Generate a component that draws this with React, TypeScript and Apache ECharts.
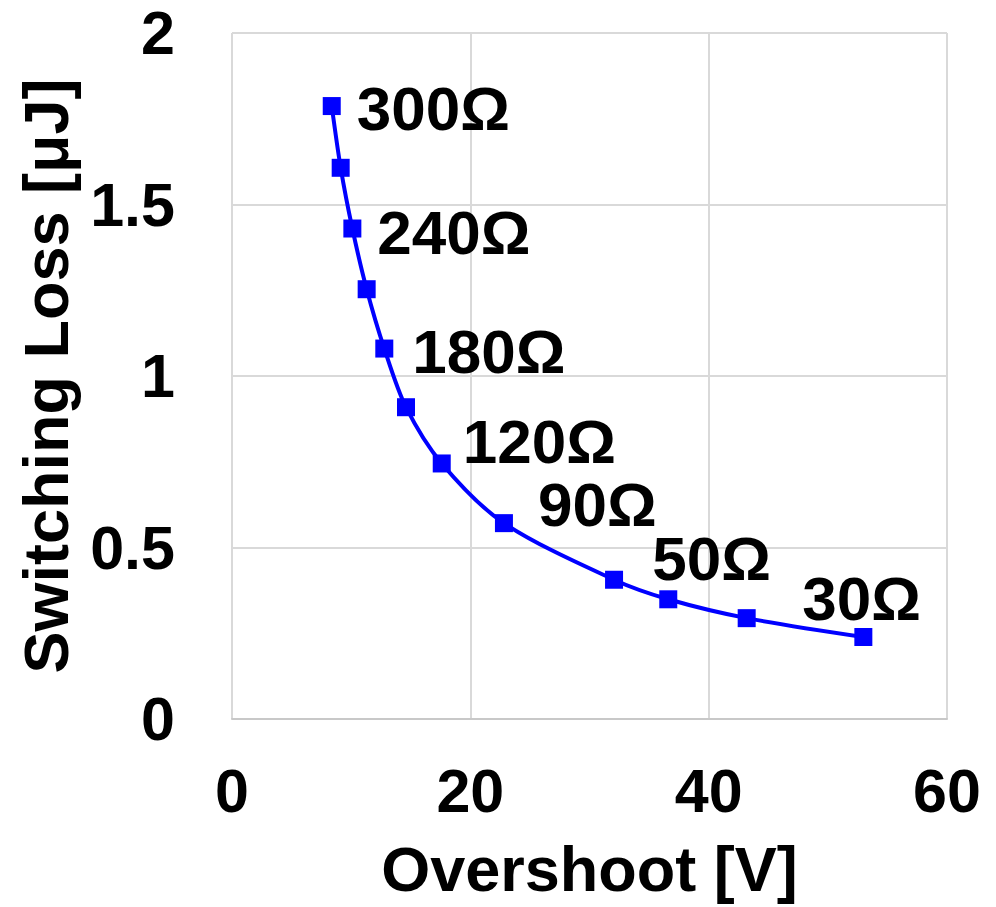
import React, { useEffect, useRef } from "react";
import * as echarts from "echarts";

const overshootV = [8.37, 9.12, 10.1, 11.3, 12.78, 14.6, 17.6, 22.82, 32.06, 36.61, 43.19, 52.98];
const switchingLossUJ = [1.787, 1.607, 1.43, 1.253, 1.08, 0.909, 0.745, 0.571, 0.406, 0.349, 0.294, 0.239];
const pointLabels = ["300Ω", "", "240Ω", "", "180Ω", "", "120Ω", "90Ω", "", "50Ω", "", "30Ω"];
const labelOffsets: number[][] = [
  [25, 2], [0, 0], [25, 4], [0, 0], [28, 3], [0, 0], [21, -22], [34, -19], [0, 0], [-16, -41], [0, 0], [-61, -39],
];
const xTicks = { min: 0, max: 60, interval: 20 };
const yTicks = { min: 0, max: 2, interval: 0.5 };

const FONT = "'Liberation Sans', Arial, sans-serif";

export default function App() {
  const ref = useRef<HTMLDivElement>(null);
  useEffect(() => {
    if (!ref.current) return;
    const chart = echarts.init(ref.current, null, { renderer: "svg" });
    const data = overshootV.map((x, i) => {
      const item: any = { value: [x, switchingLossUJ[i]] };
      if (pointLabels[i]) {
        item.label = {
          show: true,
          formatter: pointLabels[i],
          position: "inside",
          align: "left",
          verticalAlign: "middle",
          offset: labelOffsets[i],
        };
      }
      return item;
    });
    chart.setOption({
      animation: false,
      backgroundColor: "#ffffff",
      grid: { left: 232, right: 49, top: 33, bottom: 188, containLabel: false },
      xAxis: {
        type: "value",
        min: xTicks.min,
        max: xTicks.max,
        interval: xTicks.interval,
        name: "Overshoot [V]",
        nameLocation: "middle",
        nameGap: 118,
        nameTextStyle: { fontFamily: FONT, fontWeight: "bold", fontSize: 63, color: "#000" },
        axisLine: { show: true, lineStyle: { color: "#c8c8c8", width: 2 } },
        axisTick: { show: false },
        axisLabel: { fontFamily: FONT, fontWeight: "bold", fontSize: 61, color: "#000", margin: 41 },
        splitLine: { show: true, lineStyle: { color: "#d9d9d9", width: 2 } },
      },
      yAxis: {
        type: "value",
        min: yTicks.min,
        max: yTicks.max,
        interval: yTicks.interval,
        name: "Switching Loss [μJ]",
        nameLocation: "middle",
        nameGap: 155,
        nameTextStyle: { fontFamily: FONT, fontWeight: "bold", fontSize: 63, color: "#000" },
        axisLine: { show: false },
        axisTick: { show: false },
        axisLabel: { fontFamily: FONT, fontWeight: "bold", fontSize: 61, color: "#000", margin: 57 },
        splitLine: { show: true, lineStyle: { color: "#d9d9d9", width: 2 } },
      },
      series: [
        {
          type: "line",
          data,
          smooth: 0.3,
          symbol: "rect",
          symbolSize: 18,
          itemStyle: { color: "#0000ff" },
          lineStyle: { color: "#0000ff", width: 4 },
          label: {
            show: false,
            fontFamily: FONT,
            fontWeight: "bold",
            fontSize: 62,
            color: "#000",
          },
        },
      ],
    });
    return () => chart.dispose();
  }, []);
  return (
    <div
      ref={ref}
      style={{ position: "fixed", left: 0, top: 0, width: 996, height: 907, background: "#fff" }}
    />
  );
}
